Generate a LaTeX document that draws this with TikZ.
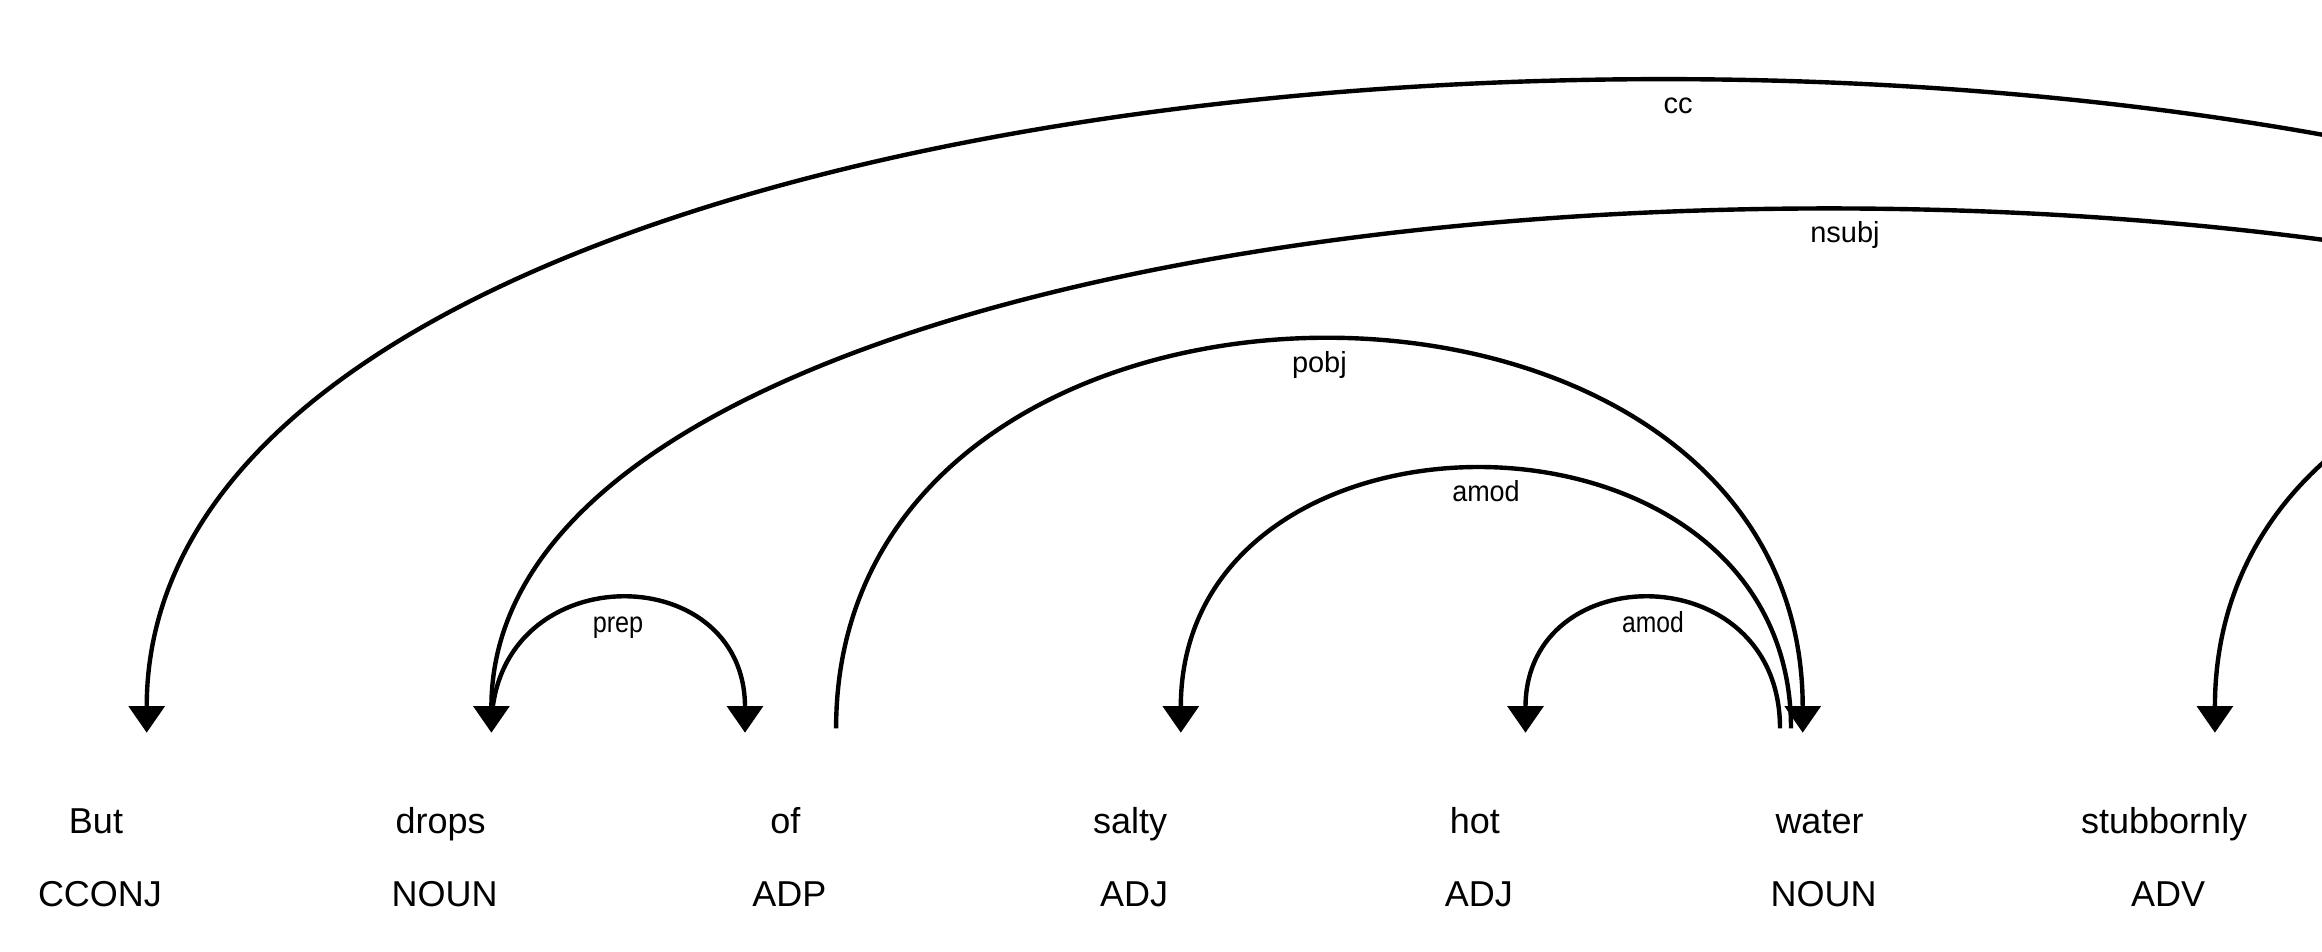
\documentclass[tikz,border=0pt]{standalone}
\usepackage{fontspec}
\setmainfont{Liberation Sans}
\usetikzlibrary{arrows.meta}
\begin{document}
\begin{tikzpicture}[x=1pt,y=-1pt,
  >={Triangle[length=26.6pt,width=35.6pt]},
  word/.style={anchor=base,inner sep=0pt,font=\fontsize{36}{40}\selectfont},
  postag/.style={anchor=base,inner sep=0pt,font=\fontsize{36}{40}\selectfont},
  deplabel/.style={anchor=base,inner sep=0pt,font=\fontsize{29}{32}\selectfont},
  deparc/.style={line width=4.4pt,draw=black},
]
\path[use as bounding box] (0,0) rectangle (2322,952);
\clip (0,0) rectangle (2322,952);

% words and tags
\node[word] (w0) at (96,833) {But};
\node[word] (w1) at (440.7,833) {drops};
\node[word] (w2) at (785.4,833) {of};
\node[word] (w3) at (1130.1,833) {salty};
\node[word] (w4) at (1474.8,833) {hot};
\node[word] (w5) at (1819.5,833) {water};
\node[word] (w6) at (2164.2,833) {stubbornly};
\node[postag] (t0) at (100,906) {CCONJ};
\node[postag] (t1) at (444.7,906) {NOUN};
\node[postag] (t2) at (789.4,906) {ADP};
\node[postag] (t3) at (1134.1,906) {ADJ};
\node[postag] (t4) at (1478.8,906) {ADJ};
\node[postag] (t5) at (1823.5,906) {NOUN};
\node[postag] (t6) at (2168.2,906) {ADV};

% arc end points
\coordinate (ccA) at (146.7,732.7);
\coordinate (ccB) at (3209,728.3);
\coordinate (nsA) at (491.4,732.7);
\coordinate (nsB) at (3198,728.3);
\coordinate (prA) at (491.4,728.3);
\coordinate (prB) at (745,732.7);
\coordinate (poA) at (836.1,728.3);
\coordinate (poB) at (1802.7,732.7);
\coordinate (a1A) at (1180.8,732.7);
\coordinate (a1B) at (1791,728.3);
\coordinate (a2A) at (1525.5,732.7);
\coordinate (a2B) at (1780,728.3);
\coordinate (avA) at (2214.9,732.7);
\coordinate (avB) at (3187,728.3);

% arcs
\draw[deparc,<-] (ccA) .. controls (146.7,-133.7) and (3209,-133.7) .. (ccB);
\draw[deparc,<-] (nsA) .. controls (491.4,38.7) and (3198,38.7) .. (nsB);
\draw[deparc,->] (prA) .. controls (491.4,555.9) and (745,555.9) .. (prB);
\draw[deparc,->] (poA) .. controls (836.1,211.1) and (1802.7,211.1) .. (poB);
\draw[deparc,<-] (a1A) .. controls (1180.8,383.5) and (1791,383.5) .. (a1B);
\draw[deparc,<-] (a2A) .. controls (1525.5,555.9) and (1780,555.9) .. (a2B);
\draw[deparc,<-] (avA) .. controls (2214.9,211.1) and (3187,211.1) .. (avB);

% labels
\node[deplabel] (lcc) at (1678,114) {cc};
\node[deplabel] (lns) at (1845,243) {nsubj};
\node[deplabel] (lpo) at (1319.4,372.5) {pobj};
\node[deplabel,xscale=0.93] (la1) at (1486,501.7) {amod};
\node[deplabel,xscale=0.85] (la2) at (1653,632) {amod};
\node[deplabel,xscale=0.87] (lpr) at (618,632) {prep};
\end{tikzpicture}
\end{document}
